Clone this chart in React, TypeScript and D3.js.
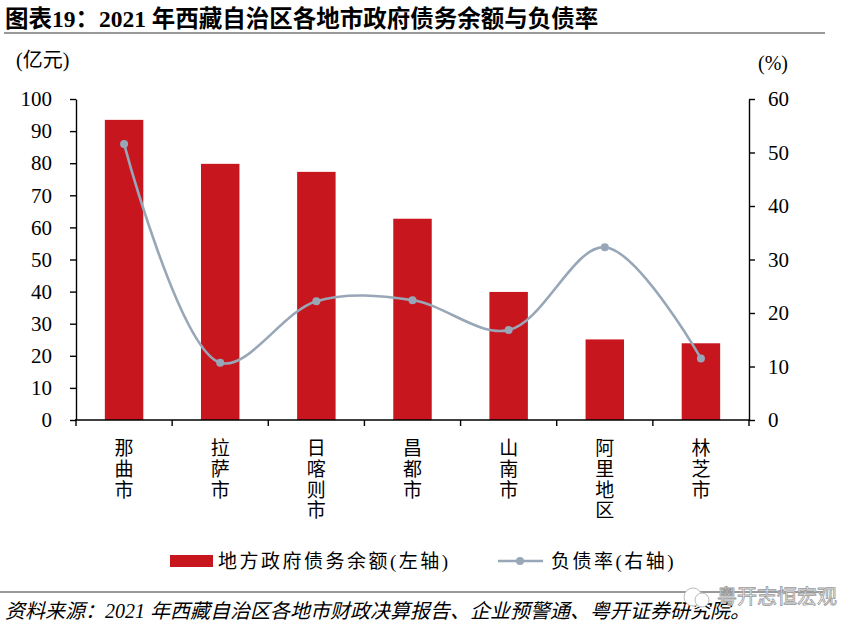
import * as d3 from "d3";
import { useEffect, useRef } from "react";

const categories = ["那曲市", "拉萨市", "日喀则市", "昌都市", "山南市", "阿里地区", "林芝市"];
const debtBalance = [93.5, 79.8, 77.3, 62.7, 39.9, 25.1, 23.9];
const debtRatio = [51.6, 10.7, 22.2, 22.4, 16.8, 32.3, 11.5];
const leftTicks = [0, 10, 20, 30, 40, 50, 60, 70, 80, 90, 100];
const rightTicks = [0, 10, 20, 30, 40, 50, 60];

const W = 868;
const H = 634;
const serif = "'Liberation Serif', 'Noto Sans CJK SC', serif";

export default function App() {
    const svgRef = useRef<SVGSVGElement | null>(null);

    useEffect(() => {
        const svg = d3.select(svgRef.current);
        svg.selectAll("*").remove();

        const left = 76;
        const right = 749;
        const top = 99;
        const bottom = 420;

        const x = d3.scaleBand<string>().domain(categories).range([left, right]).paddingInner(0.6).paddingOuter(0.3);
        const band = d3.scaleBand<string>().domain(categories).range([left, right]);
        const y = d3.scaleLinear().domain([0, 100]).range([bottom, top]);
        const y2 = d3.scaleLinear().domain([0, 60]).range([bottom, top]);

        // Title
        svg.append("text")
            .attr("x", 5)
            .attr("y", 27)
            .attr("font-family", serif)
            .attr("font-weight", "bold")
            .attr("font-size", 23.5)
            .attr("fill", "#000")
            .text("图表19：2021 年西藏自治区各地市政府债务余额与负债率");
        svg.append("line")
            .attr("x1", 4).attr("x2", 825)
            .attr("y1", 33).attr("y2", 33)
            .attr("stroke", "#999").attr("stroke-width", 2.2);

        // Axis units
        svg.append("text")
            .attr("x", 16).attr("y", 67)
            .attr("font-family", serif).attr("font-size", 20)
            .text("(亿元)");
        svg.append("text")
            .attr("x", 758).attr("y", 70)
            .attr("font-family", serif).attr("font-size", 20)
            .text("(%)");

        // Bars
        svg.append("g")
            .selectAll("rect")
            .data(debtBalance)
            .enter()
            .append("rect")
            .attr("x", (_, i) => x(categories[i])!)
            .attr("width", x.bandwidth())
            .attr("y", (d) => y(d))
            .attr("height", (d) => bottom - y(d))
            .attr("fill", "#C8161E");

        // Left axis
        const gl = svg.append("g")
            .attr("transform", `translate(${left},0)`)
            .call(d3.axisLeft(y).tickValues(leftTicks).tickSize(6).tickSizeOuter(0).tickPadding(18));
        gl.select(".domain").attr("stroke", "#000").attr("stroke-width", 1.4);
        gl.selectAll("line").attr("stroke", "#000").attr("stroke-width", 1.4);
        gl.selectAll("text").attr("font-family", serif).attr("font-size", 21).attr("fill", "#000");

        // Right axis
        const gr = svg.append("g")
            .attr("transform", `translate(${right},0)`)
            .call(d3.axisRight(y2).tickValues(rightTicks).tickSize(6).tickSizeOuter(0).tickPadding(13));
        gr.select(".domain").attr("stroke", "#000").attr("stroke-width", 1.4);
        gr.selectAll("line").attr("stroke", "#000").attr("stroke-width", 1.4);
        gr.selectAll("text").attr("font-family", serif).attr("font-size", 21).attr("fill", "#000");

        // Bottom axis
        const gb = svg.append("g");
        gb.append("line")
            .attr("x1", left - 1).attr("x2", right + 1)
            .attr("y1", bottom).attr("y2", bottom)
            .attr("stroke", "#000").attr("stroke-width", 1.4);
        const boundaries = [...categories.map((c) => band(c)!), right];
        gb.selectAll("line.tick")
            .data(boundaries)
            .enter()
            .append("line")
            .attr("class", "tick")
            .attr("x1", (d) => d).attr("x2", (d) => d)
            .attr("y1", bottom).attr("y2", bottom + 6)
            .attr("stroke", "#000").attr("stroke-width", 1.4);

        // Category labels (vertical)
        categories.forEach((c) => {
            const cx = band(c)! + band.bandwidth() / 2;
            const t = gb.append("text")
                .attr("font-family", serif)
                .attr("font-size", 19)
                .attr("text-anchor", "middle")
                .attr("fill", "#000");
            Array.from(c).forEach((ch, j) => {
                t.append("tspan").attr("x", cx).attr("y", 455 + j * 20.8).text(ch);
            });
        });

        // Ratio line
        const pts: [number, number][] = debtRatio.map((v, i) => [
            band(categories[i])! + band.bandwidth() / 2,
            y2(v),
        ]);
        const line = d3.line().curve(d3.curveCatmullRom.alpha(0.5));
        svg.append("path")
            .attr("d", line(pts)!)
            .attr("fill", "none")
            .attr("stroke", "#98A7B7")
            .attr("stroke-width", 2.6);
        svg.append("g")
            .selectAll("circle")
            .data(pts)
            .enter()
            .append("circle")
            .attr("cx", (d) => d[0])
            .attr("cy", (d) => d[1])
            .attr("r", 4)
            .attr("fill", "#98A7B7");

        // Legend
        const lg = svg.append("g");
        lg.append("rect").attr("x", 170).attr("y", 555).attr("width", 43).attr("height", 12).attr("fill", "#C8161E");
        lg.append("text")
            .attr("x", 218).attr("y", 568)
            .attr("font-family", serif).attr("font-size", 19).attr("letter-spacing", 2.5)
            .text("地方政府债务余额(左轴)");
        lg.append("line").attr("x1", 498).attr("x2", 543).attr("y1", 561).attr("y2", 561)
            .attr("stroke", "#98A7B7").attr("stroke-width", 2.6);
        lg.append("circle").attr("cx", 520).attr("cy", 561).attr("r", 4).attr("fill", "#98A7B7");
        lg.append("text")
            .attr("x", 551).attr("y", 568)
            .attr("font-family", serif).attr("font-size", 19).attr("letter-spacing", 2.5)
            .text("负债率(右轴)");

        // Footer
        svg.append("line")
            .attr("x1", 0).attr("x2", 825)
            .attr("y1", 592).attr("y2", 592)
            .attr("stroke", "#999").attr("stroke-width", 2.2);
        svg.append("text")
            .attr("x", 5).attr("y", 618)
            .attr("font-family", serif).attr("font-size", 20).attr("font-style", "italic")
            .text("资料来源：2021 年西藏自治区各地市财政决算报告、企业预警通、粤开证券研究院。");

        // Watermark
        const wm = svg.append("g");
        wm.append("circle").attr("cx", 693).attr("cy", 597).attr("r", 9)
            .attr("fill", "#fff").attr("stroke", "#bbb").attr("stroke-width", 1);
        wm.append("circle").attr("cx", 702).attr("cy", 600).attr("r", 7)
            .attr("fill", "#fff").attr("stroke", "#bbb").attr("stroke-width", 1);
        wm.append("text")
            .attr("x", 717).attr("y", 604)
            .attr("font-family", "'Noto Sans CJK SC', sans-serif").attr("font-size", 20)
            .attr("fill", "#fff").attr("stroke", "#999").attr("stroke-width", 0.8)
            .text("粤开志恒宏观");
    }, []);

    return (
        <div style={{ position: "absolute", left: 0, top: 0 }}>
            <svg ref={svgRef} width={W} height={H} style={{ display: "block", background: "#fff" }}></svg>
        </div>
    );
}
